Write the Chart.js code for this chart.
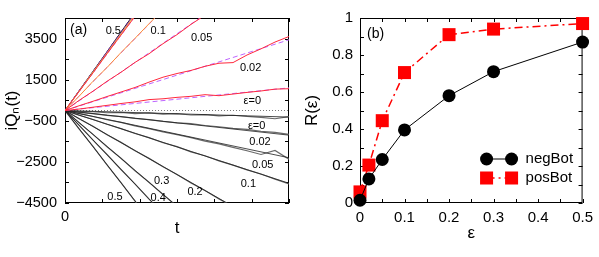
<!DOCTYPE html>
<html>
<head>
<meta charset="utf-8">
<script src="https://cdn.jsdelivr.net/npm/chart.js@4.4.0/dist/chart.umd.min.js"></script>
<style>
body { margin: 0; background: #fff; }
#wrap { position: relative; width: 599px; height: 257px; overflow: hidden; }
canvas { position: absolute; top: 0; }
</style>
</head>
<body>
<div id="wrap">
<canvas id="chartA" width="300" height="257" style="left:0"></canvas>
<canvas id="chartB" width="299" height="257" style="left:300px"></canvas>
</div>
<script>
// ---- panel (a): iQn(t), sampled every 1000 steps ----
const tGrid = [0, 1000, 2000, 3000, 4000, 5000, 6000, 7000, 8000, 9000, 10000, 11000, 12000, 13000, 14000, 15000, 16000];
const epsNames = ['0', '0.02', '0.05', '0.1', '0.2', '0.3', '0.4', '0.5'];

// positive bots
const posEps0   = [0, 70, 160, 250, 340, 420, 530, 570, 640, 690, 770, 720, 800, 880, 950, 1040, 1060];
const posEps002 = [0, 230, 450, 680, 900, 1120, 1380, 1620, 1800, 1950, 2150, 2300, 2330, 2700, 3000, 3330, 3600];
const posEps005 = [0, 490, 940, 1420, 1860, 2340, 2760, 3250, 3690, 4190, 4640];
const posEps01  = [0, 690, 1420, 2090, 2820, 3510, 4220, 4910];
const posEps02  = [0, 920, 1830, 2760, 3670, 4580];
const posEps03  = [0, 930, 1870, 2790, 3730, 4660];
const posEps04  = [0, 945, 1880, 2840, 3770, 4720];
const posEps05  = [0, 955, 1910, 2860, 3820, 4770];

// negative bots
const negEps0   = [0, -40, -60, -110, -90, -150, -120, -180, -150, -220, -200, -260, -230, -290, -330, -400, -300];
const negEps002 = [0, -90, -150, -240, -300, -380, -440, -530, -600, -640, -730, -790, -870, -920, -1010, -1060, -1160];
const negEps005 = [0, -150, -290, -450, -580, -750, -880, -1040, -1170, -1320, -1490, -1620, -1790, -1960, -2140, -1940, -2370];
const negEps01  = [0, -230, -440, -670, -880, -1120, -1320, -1570, -1760, -2010, -2200, -2450, -2660, -2890, -3090, -3340, -3570];
const negEps02  = [0, -400, -770, -1180, -1550, -1960, -2330, -2740, -3110, -3520, -3890, -4300, -4680];
const negEps03  = [0, -590, -1160, -1760, -2320, -2930, -3490, -4090, -4660];
const negEps04  = [0, -710, -1440, -2140, -2870, -3570, -4310, -5010];
const negEps05  = [0, -890, -1750, -2650, -3510, -4410, -5270];

// straight fits: from origin to value at fitT
const fitT = 16000;
const posFitEnd = [1100, 3440, 7470, 11200, 14650, 14900, 15100, 15280];
const negFitEnd = [-320, -1200, -2300, -3540, -6230, -9320, -11460, -14060];

// curve labels (data coordinates)
const curveLabels = ['0.5', '0.1', '0.05', '0.02', 'ε=0', 'ε=0', '0.02', '0.05', '0.1', '0.2', '0.3', '0.4', '0.5'];
const labelT = [3450, 6660, 9760, 13260, 13380, 13690, 13930, 14120, 13100, 9290, 6900, 6660, 3570];
const labelQ = [3893, 3845, 3524, 2068, 447, -767, -1544, -2660, -3563, -3971, -3437, -4243, -4194];

// ---- panel (b): R(eps) ----
const epsVals = [0, 0.02, 0.05, 0.1, 0.2, 0.3, 0.5];
const negBot = [0.015, 0.13, 0.235, 0.395, 0.58, 0.71, 0.87];
const posBot = [0.06, 0.205, 0.445, 0.705, 0.91, 0.94, 0.97];

Chart.defaults.font.family = "'Liberation Sans', Arial, sans-serif";
Chart.defaults.color = '#000';

const posRuns = [posEps0, posEps002, posEps005, posEps01, posEps02, posEps03, posEps04, posEps05];
const negRuns = [negEps0, negEps002, negEps005, negEps01, negEps02, negEps03, negEps04, negEps05];
const posColors = ['rgb(255,40,60)', 'rgb(255,40,60)', 'rgb(255,40,60)', 'rgb(255,140,50)',
                   'rgb(255,40,60)', 'rgb(235,200,40)', 'rgb(150,40,200)', 'rgb(30,30,30)'];

function pts(vals) {
    return vals.map((v, i) => ({ x: tGrid[i], y: v }));
}

// first dataset ends up on top
const dsA = [];
epsNames.forEach((e, i) => {
    dsA.push({ label: 'pos ' + e, data: pts(posRuns[i]), borderColor: posColors[i], borderWidth: 1 });
});
epsNames.forEach((e, i) => {
    dsA.push({ label: 'fit+ ' + e, data: [{ x: 0, y: 0 }, { x: fitT, y: posFitEnd[i] }],
        borderColor: 'rgb(190,100,255)', borderWidth: 1, borderDash: [5, 3] });
    dsA.push({ label: 'fit- ' + e, data: [{ x: 0, y: 0 }, { x: fitT, y: negFitEnd[i] }],
        borderColor: 'rgb(30,30,30)', borderWidth: 0.8 });
});
epsNames.forEach((e, i) => {
    dsA.push({ label: 'neg ' + e, data: pts(negRuns[i]), borderColor: 'rgb(105,105,105)', borderWidth: 1.2 });
});
// zero line (drawn first, at the bottom)
dsA.push({ label: 'zero', data: [{ x: 0, y: 0 }, { x: fitT, y: 0 }],
    borderColor: 'rgb(120,120,120)', borderWidth: 1, borderDash: [1, 2] });

// frame + inward tick marks on all four sides
const frameTicks = {
    id: 'frameTicks',
    beforeDatasetsDraw(chart) {
        const { ctx, chartArea: a, scales: { x, y } } = chart;
        ctx.save();
        ctx.strokeStyle = '#000';
        ctx.lineWidth = 1;
        ctx.beginPath();
        x.ticks.forEach(tk => {
            const px = Math.round(x.getPixelForValue(tk.value)) + 0.5;
            ctx.moveTo(px, a.bottom); ctx.lineTo(px, a.bottom - 4);
            ctx.moveTo(px, a.top); ctx.lineTo(px, a.top + 4);
        });
        y.ticks.forEach(tk => {
            const py = Math.round(y.getPixelForValue(tk.value)) + 0.5;
            ctx.moveTo(a.left, py); ctx.lineTo(a.left + 4, py);
            ctx.moveTo(a.right, py); ctx.lineTo(a.right - 4, py);
        });
        ctx.stroke();
        ctx.strokeRect(a.left + 0.5, a.top + 0.5, a.right - a.left - 1, a.bottom - a.top - 1);
        ctx.restore();
    }
};

// panel tag "(a)" / "(b)"
const panelTag = {
    id: 'panelTag',
    afterDatasetsDraw(chart, args, opts) {
        const { ctx, chartArea: a } = chart;
        ctx.save();
        ctx.font = "14px 'Liberation Sans', Arial, sans-serif";
        ctx.fillStyle = '#000';
        ctx.textAlign = 'left';
        ctx.textBaseline = 'middle';
        ctx.fillText(opts.text, a.left + opts.dx, a.top + opts.dy);
        ctx.restore();
    }
};

// curve labels for panel (a)
const curveText = {
    id: 'curveText',
    afterDatasetsDraw(chart) {
        const { ctx, scales: { x, y } } = chart;
        ctx.save();
        ctx.font = "11px 'Liberation Sans', Arial, sans-serif";
        ctx.fillStyle = '#000';
        ctx.textAlign = 'center';
        ctx.textBaseline = 'middle';
        curveLabels.forEach((s, i) => {
            ctx.fillText(s, x.getPixelForValue(labelT[i]), y.getPixelForValue(labelQ[i]));
        });
        ctx.restore();
    }
};

// gnuplot style key: line with marker at both ends
const lineKey = {
    id: 'lineKey',
    afterDatasetsDraw(chart) {
        const { ctx, chartArea: a } = chart;
        chart.data.datasets.forEach((ds, i) => {
            const yy = a.bottom - 44 + i * 19;
            const x0 = a.right - 96, x1 = a.right - 71;
            ctx.save();
            ctx.strokeStyle = ds.borderColor;
            ctx.lineWidth = ds.borderWidth;
            ctx.setLineDash(ds.borderDash || []);
            ctx.beginPath();
            ctx.moveTo(x0, yy); ctx.lineTo(x1, yy);
            ctx.stroke();
            ctx.setLineDash([]);
            ctx.fillStyle = ds.backgroundColor;
            [x0, x1].forEach(px => {
                Chart.helpers.drawPoint(ctx, { pointStyle: ds.pointStyle, radius: ds.pointRadius, borderWidth: 0 }, px, yy);
            });
            ctx.fillStyle = '#000';
            ctx.font = "15px 'Liberation Sans', Arial, sans-serif";
            ctx.textAlign = 'left';
            ctx.textBaseline = 'middle';
            ctx.fillText(ds.label, a.right - 57, yy);
            ctx.restore();
        });
    }
};

function minusFmt(v) {
    return v < 0 ? '\u2212' + Math.abs(v) : String(v);
}

new Chart(document.getElementById('chartA'), {
    type: 'line',
    data: { datasets: dsA },
    options: {
        responsive: false,
        animation: false,
        layout: { padding: { top: 18, right: 11, left: 0, bottom: 0 } },
        elements: { point: { radius: 0 }, line: { tension: 0 } },
        plugins: {
            legend: { display: false },
            tooltip: { enabled: false },
            panelTag: { text: '(a)', dx: 5, dy: 12 }
        },
        scales: {
            x: {
                type: 'linear', min: 0, max: 16000,
                grid: { display: false, drawTicks: false },
                border: { display: false },
                ticks: { stepSize: 2500, includeBounds: false, autoSkip: false, maxRotation: 0, padding: 5,
                    font: { size: 14.5 }, callback: v => (v % 5000 === 0 ? String(v) : '') },
                title: { display: true, text: 't', font: { size: 17 }, padding: { top: 0, bottom: 18 } },
                afterFit: s => { s.height = 54; }
            },
            y: {
                type: 'linear', min: -4500, max: 4500,
                grid: { display: false, drawTicks: false },
                border: { display: false },
                ticks: { stepSize: 1000, includeBounds: false, autoSkip: false, padding: 8,
                    font: { size: 14.5 }, callback: v => ((v + 4500) % 2000 === 0 ? minusFmt(v) : '') },
                title: { display: true, text: 'iQₙ(t)', font: { size: 17 }, padding: { top: 2, bottom: 0 } },
                afterFit: s => { s.width = 65; }
            }
        }
    },
    plugins: [frameTicks, curveText, panelTag]
});

new Chart(document.getElementById('chartB'), {
    type: 'line',
    data: {
        datasets: [{
            label: 'negBot',
            data: epsVals.map((e, i) => ({ x: e, y: negBot[i] })),
            borderColor: '#000', backgroundColor: '#000', borderWidth: 1,
            pointStyle: 'circle', pointRadius: 6.5, pointBorderWidth: 0, clip: false
        }, {
            label: 'posBot',
            data: epsVals.map((e, i) => ({ x: e, y: posBot[i] })),
            borderColor: 'rgb(255,0,0)', backgroundColor: 'rgb(255,0,0)', borderWidth: 1.5,
            borderDash: [8, 4, 2, 4],
            pointStyle: 'rect', pointRadius: 9.2, pointBorderWidth: 0, clip: false
        }]
    },
    options: {
        responsive: false,
        animation: false,
        layout: { padding: { top: 18, right: 15, left: 0, bottom: 0 } },
        elements: { line: { tension: 0 } },
        plugins: {
            legend: { display: false },
            tooltip: { enabled: false },
            panelTag: { text: '(b)', dx: 7, dy: 16 }
        },
        scales: {
            x: {
                type: 'linear', min: 0, max: 0.5,
                grid: { display: false, drawTicks: false },
                border: { display: false },
                ticks: { stepSize: 0.05, autoSkip: false, maxRotation: 0, padding: 6, font: { size: 15 },
                    callback: v => (Math.round(v * 100) % 10 === 0 ? String(Math.round(v * 10) / 10) : '') },
                title: { display: true, text: 'ε', font: { size: 17 }, padding: { top: 0, bottom: 13 } },
                afterFit: s => { s.height = 54; }
            },
            y: {
                type: 'linear', min: 0, max: 1,
                grid: { display: false, drawTicks: false },
                border: { display: false },
                ticks: { stepSize: 0.1, autoSkip: false, padding: 7, font: { size: 15 },
                    callback: v => (Math.round(v * 10) % 2 === 0 ? String(Math.round(v * 10) / 10) : '') },
                title: { display: true, text: 'R(ε)', font: { size: 17 }, padding: { top: 2, bottom: 0 } },
                afterFit: s => { s.width = 60; }
            }
        }
    },
    plugins: [frameTicks, lineKey, panelTag]
});
</script>
</body>
</html>
